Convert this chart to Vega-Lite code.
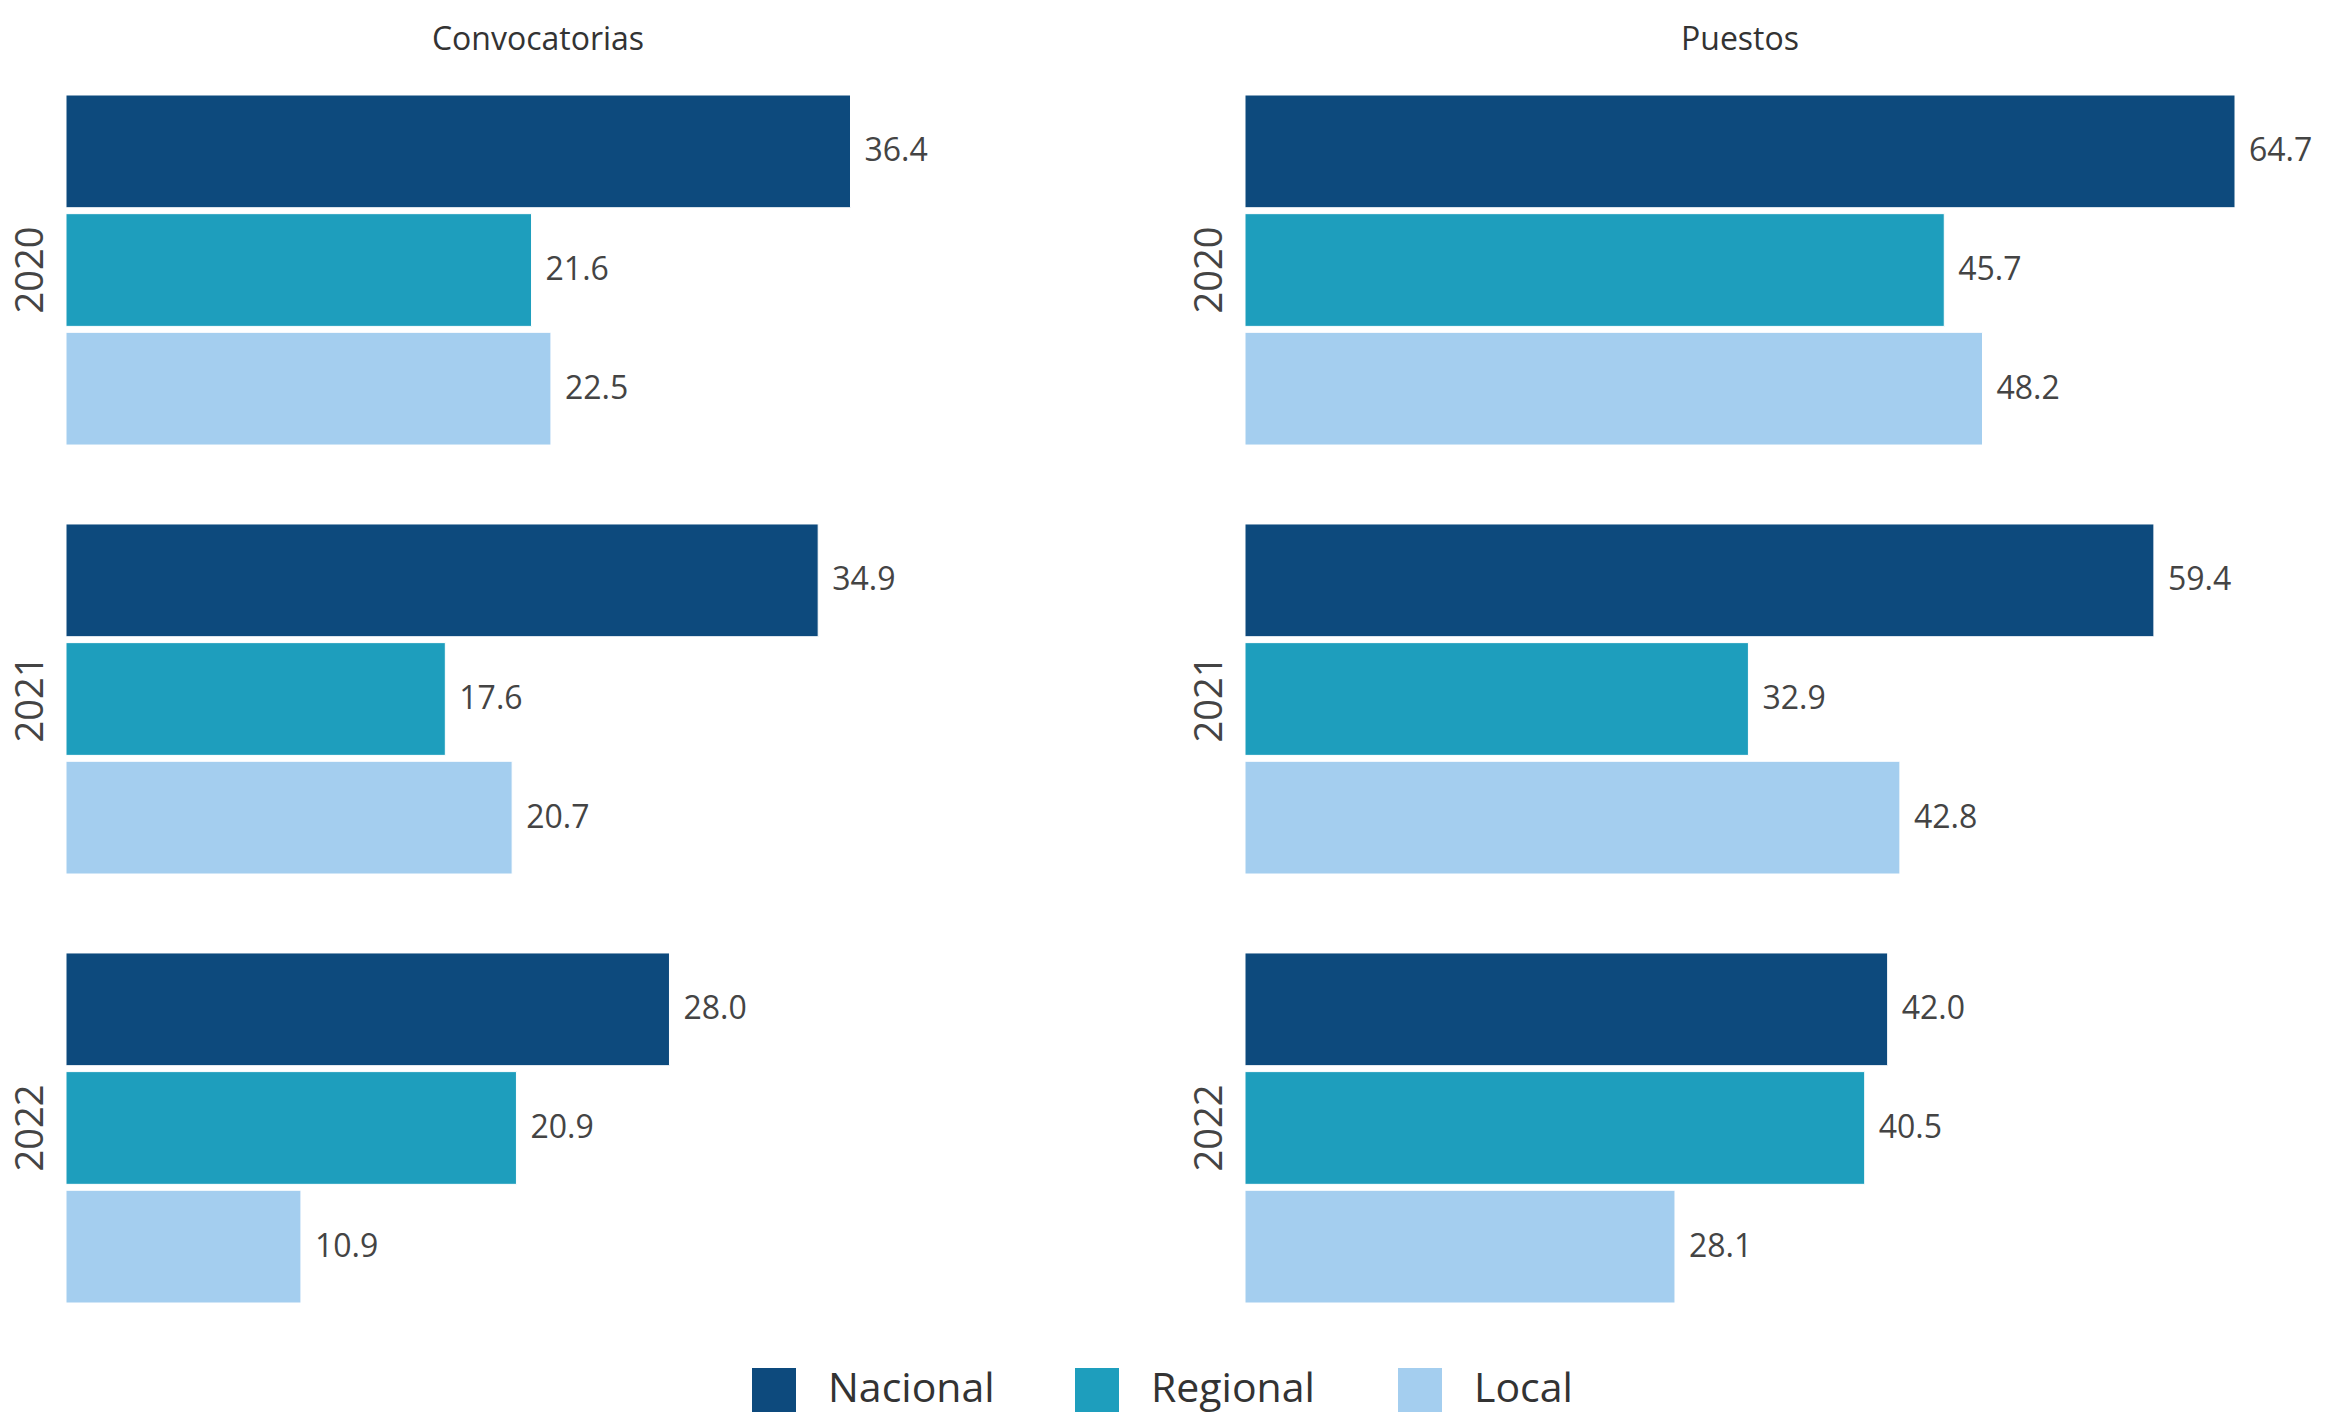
{
  "$schema": "https://vega.github.io/schema/vega-lite/v6.json",
  "padding": {"left": 12, "top": 23, "right": 10, "bottom": 0},
  "background": "white",
  "data": {"values": [
    {"medida": "Convocatorias", "year": "2020", "categoria": "Nacional", "valor": 36.4},
    {"medida": "Convocatorias", "year": "2020", "categoria": "Regional", "valor": 21.6},
    {"medida": "Convocatorias", "year": "2020", "categoria": "Local", "valor": 22.5},
    {"medida": "Convocatorias", "year": "2021", "categoria": "Nacional", "valor": 34.9},
    {"medida": "Convocatorias", "year": "2021", "categoria": "Regional", "valor": 17.6},
    {"medida": "Convocatorias", "year": "2021", "categoria": "Local", "valor": 20.7},
    {"medida": "Convocatorias", "year": "2022", "categoria": "Nacional", "valor": 28.0},
    {"medida": "Convocatorias", "year": "2022", "categoria": "Regional", "valor": 20.9},
    {"medida": "Convocatorias", "year": "2022", "categoria": "Local", "valor": 10.9},
    {"medida": "Puestos", "year": "2020", "categoria": "Nacional", "valor": 64.7},
    {"medida": "Puestos", "year": "2020", "categoria": "Regional", "valor": 45.7},
    {"medida": "Puestos", "year": "2020", "categoria": "Local", "valor": 48.2},
    {"medida": "Puestos", "year": "2021", "categoria": "Nacional", "valor": 59.4},
    {"medida": "Puestos", "year": "2021", "categoria": "Regional", "valor": 32.9},
    {"medida": "Puestos", "year": "2021", "categoria": "Local", "valor": 42.8},
    {"medida": "Puestos", "year": "2022", "categoria": "Nacional", "valor": 42.0},
    {"medida": "Puestos", "year": "2022", "categoria": "Regional", "valor": 40.5},
    {"medida": "Puestos", "year": "2022", "categoria": "Local", "valor": 28.1}
  ]},
  "spacing": 181,
  "hconcat": [
    {
      "title": "Convocatorias",
      "width": 944,
      "height": 1208,
      "transform": [{"filter": "datum.medida === 'Convocatorias'"}],
      "encoding": {
        "y": {"field": "year", "type": "nominal", "scale": {"paddingInner": 0.184, "paddingOuter": 0}, "axis": {"title": null, "domain": false, "ticks": false, "labelAngle": -90, "labelFontSize": 38, "labelPadding": 16, "labelColor": "#444444"}},
        "yOffset": {"field": "categoria", "type": "nominal", "sort": ["Nacional", "Regional", "Local"], "scale": {"paddingInner": 0.05, "paddingOuter": 0}},
        "x": {"field": "valor", "type": "quantitative", "scale": {"domain": [0, 43.8], "nice": false, "zero": true}, "axis": null}
      },
      "layer": [
        {"mark": {"type": "bar", "stroke": "white", "strokeWidth": 1},
         "encoding": {"color": {"field": "categoria", "type": "nominal", "sort": ["Nacional", "Regional", "Local"], "scale": {"domain": ["Nacional", "Regional", "Local"], "range": ["#0D4A7D", "#1E9EBD", "#A4CEEF"]}, "legend": {"title": null}}}},
        {"mark": {"type": "text", "align": "left", "baseline": "middle", "dx": 14, "fontSize": 32, "color": "#444444"},
         "encoding": {"text": {"field": "valor", "type": "quantitative", "format": ".1f"}}}
      ]
    },
    {
      "title": "Puestos",
      "width": 990,
      "height": 1208,
      "transform": [{"filter": "datum.medida === 'Puestos'"}],
      "encoding": {
        "y": {"field": "year", "type": "nominal", "scale": {"paddingInner": 0.184, "paddingOuter": 0}, "axis": {"title": null, "domain": false, "ticks": false, "labelAngle": -90, "labelFontSize": 38, "labelPadding": 16, "labelColor": "#444444"}},
        "yOffset": {"field": "categoria", "type": "nominal", "sort": ["Nacional", "Regional", "Local"], "scale": {"paddingInner": 0.05, "paddingOuter": 0}},
        "x": {"field": "valor", "type": "quantitative", "scale": {"domain": [0, 64.7], "nice": false, "zero": true}, "axis": null}
      },
      "layer": [
        {"mark": {"type": "bar", "stroke": "white", "strokeWidth": 1},
         "encoding": {"color": {"field": "categoria", "type": "nominal", "sort": ["Nacional", "Regional", "Local"], "scale": {"domain": ["Nacional", "Regional", "Local"], "range": ["#0D4A7D", "#1E9EBD", "#A4CEEF"]}, "legend": {"title": null}}}},
        {"mark": {"type": "text", "align": "left", "baseline": "middle", "dx": 14, "fontSize": 32, "color": "#444444"},
         "encoding": {"text": {"field": "valor", "type": "quantitative", "format": ".1f"}}}
      ]
    }
  ],
  "config": {
    "font": "Open Sans",
    "view": {"stroke": null},
    "title": {"fontSize": 32, "fontWeight": "normal", "color": "#333333", "offset": 38, "anchor": "middle"},
    "legend": {
      "orient": "bottom",
      "direction": "horizontal",
      "symbolType": "square",
      "symbolSize": 1936,
      "symbolStrokeWidth": 0,
      "symbolOpacity": 1,
      "labelFontSize": 41,
      "labelLimit": 0,
      "labelColor": "#333333",
      "labelOffset": 32,
      "columnPadding": 80,
      "gridAlign": "all",
      "offset": 64,
      "layout": {"bottom": {"anchor": "middle"}}
    }
  }
}
